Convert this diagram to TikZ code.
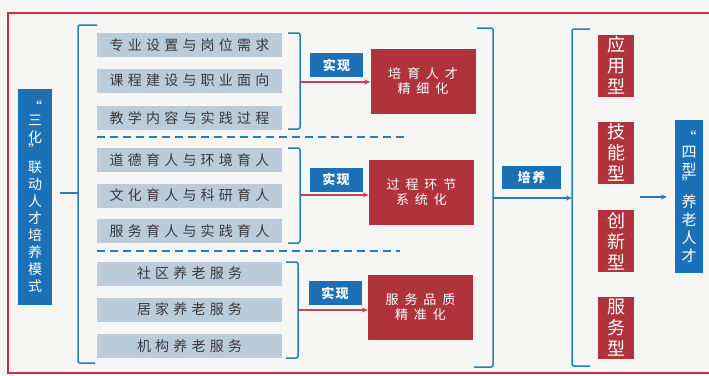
\documentclass[tikz,border=0pt]{standalone}
\usepackage{fontspec}
\setmainfont{Noto Sans CJK SC}
\usetikzlibrary{arrows.meta,calc}
\definecolor{FrameClr}{rgb}{0.78,0.2,0.24}
\definecolor{BlueClr}{rgb}{0.11,0.44,0.71}
\definecolor{LineClr}{rgb}{0.15,0.49,0.74}
\definecolor{RedClr}{rgb}{0.69,0.2,0.23}
\definecolor{ArrowClr}{rgb}{0.76,0.27,0.32}
\definecolor{GrayClr}{rgb}{0.73,0.80,0.85}
\definecolor{TextClr}{rgb}{0.22,0.22,0.24}
\definecolor{PaperClr}{rgb}{0.965,0.965,0.955}

\begin{document}
\begin{tikzpicture}[x=1pt,y=-1pt,
  item/.style={fill=GrayClr,minimum width=185,minimum height=24,inner sep=0pt,
    text=TextClr,font=\fontsize{14}{14}\selectfont\addfontfeature{LetterSpace=30}},
  realize/.style={fill=BlueClr,minimum width=53,minimum height=24,inner sep=0pt,
    text=white,font=\fontsize{13}{13}\selectfont\bfseries\addfontfeature{LetterSpace=10}},
  goal/.style={fill=RedClr,minimum width=105,minimum height=65,inner sep=0pt,align=center,
    text=white,font=\fontsize{13}{15}\selectfont\addfontfeature{LetterSpace=45}},
  kind/.style={fill=RedClr,minimum width=36,minimum height=62,inner sep=0pt,align=center,
    text=white,font=\fontsize{18}{21}\selectfont},
  bluebox/.style={fill=BlueClr,inner sep=0pt,align=center,text=white},
  brace/.style={LineClr,line width=1.5pt,rounded corners=2pt},
  redarrow/.style={ArrowClr,line width=1.5pt,-{Stealth[length=6pt,width=5pt]}},
  bluearrow/.style={LineClr,line width=1.5pt,-{Stealth[length=6pt,width=5pt]}},
  sep/.style={LineClr,line width=1.5pt,dash pattern=on 8pt off 5pt}]

\fill[PaperClr] (0,0) rectangle (709,375);
\useasboundingbox (0,0) rectangle (709,375);
\draw[FrameClr,line width=1.5pt] (715,13) -- (8,13) -- (8,373) -- (715,373);

\node[bluebox,minimum width=34,minimum height=216,font=\fontsize{14}{17}\selectfont] (mode) at (35,197)
  {“\\[-4pt]三\\化\\[-4pt]”\\联\\动\\人\\才\\培\\养\\模\\式};

\draw[brace] (97,25) -- (78,25) -- (78,363) -- (95,363);
\coordinate (lb) at (78,193);
\draw[brace] ([xshift=8pt]mode.east |- lb) -- (lb);

\node[item] (i1) at (189.5,45) {专业设置与岗位需求};
\node[item] (i2) at (189.5,80.5) {课程建设与职业面向};
\node[item] (i3) at (189.5,118) {教学内容与实践过程};
\node[item] (i4) at (189.5,160) {道德育人与环境育人};
\node[item] (i5) at (189.5,195.5) {文化育人与科研育人};
\node[item] (i6) at (189.5,231) {服务育人与实践育人};
\node[item] (i7) at (189.5,273.5) {社区养老服务};
\node[item] (i8) at (189.5,309.5) {居家养老服务};
\node[item] (i9) at (189.5,346) {机构养老服务};

\draw[sep] (97,137) -- (405,137);
\draw[sep] (97,251) -- (400,251);

\draw[brace] (288,33) -- (300,33) -- (300,129) -- (288,129);
\draw[brace] (288,148) -- (300,148) -- (300,243) -- (288,243);
\draw[brace] (286,262) -- (298,262) -- (298,358) -- (286,358);

\node[realize] (r1) at (336.5,65) {实现};
\node[realize] (r2) at (336,179.5) {实现};
\node[realize] (r3) at (335,293) {实现};

\node[goal] (goal1) at (423,81) {培育人才\\精细化};
\node[goal] (goal2) at (421.5,192.5) {过程环节\\系统化};
\node[goal] (goal3) at (420.5,307.5) {服务品质\\精准化};

\coordinate (g1) at (300,82);
\coordinate (g2) at (300,195);
\coordinate (g3) at (298,310);
\draw[redarrow] (g1) -- (g1 -| goal1.west);
\draw[redarrow] (g2) -- (g2 -| goal2.west);
\draw[redarrow] (g3) -- (g3 -| goal3.west);

\draw[brace] (477,28) -- (493,28) -- (493,367) -- (474,367);
\draw[brace] (590,29) -- (572,29) -- (572,366) -- (590,366);
\node[bluebox,minimum width=59,minimum height=23,font=\fontsize{13}{13}\selectfont\bfseries\addfontfeature{LetterSpace=15}] (train) at (531.5,177.5) {培养};
\coordinate (m1) at (493,198);
\coordinate (m2) at (572,198);
\draw[bluearrow] (m1) -- (m2);

\node[kind] (k1) at (616,65.5) {应\\用\\型};
\node[kind] (k2) at (616,152.5) {技\\能\\型};
\node[kind] (k3) at (616,241) {创\\新\\型};
\node[kind] (k4) at (616,328) {服\\务\\型};

\node[bluebox,minimum width=28,minimum height=153,font=\fontsize{15}{18}\selectfont] (talent) at (689,196.5)
  {“\\[-4pt]四\\型\\[-4pt]”\\养\\老\\人\\才};
\coordinate (a0) at (640,197);
\draw[bluearrow,shorten >=8pt] (a0) -- (a0 -| talent.west);

\end{tikzpicture}
\end{document}
